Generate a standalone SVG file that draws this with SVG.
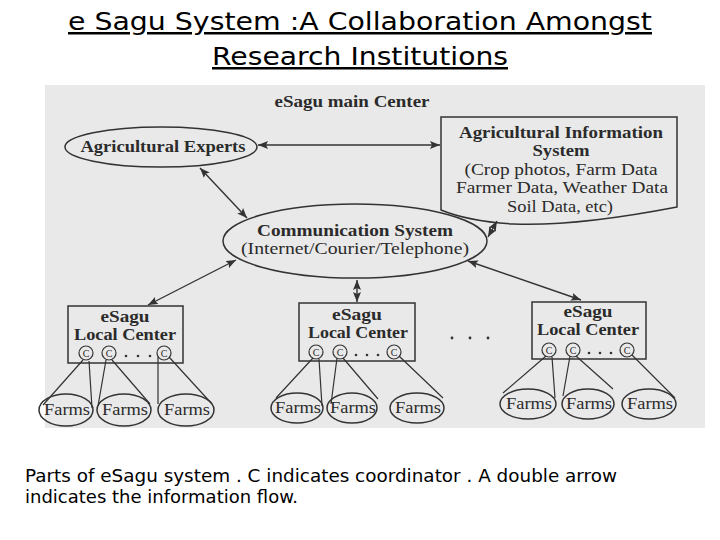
<svg xmlns="http://www.w3.org/2000/svg" width="720" height="540" viewBox="0 0 720 540">
<style>
.ttl{font-family:"DejaVu Sans",Verdana,sans-serif;font-size:25px;fill:#000;text-decoration:underline}
.cap{font-family:"DejaVu Sans",Verdana,sans-serif;font-size:17.5px;fill:#000}
.b{font-family:"Liberation Serif","Times New Roman",serif;font-weight:bold;font-size:17px;fill:#2b2b2b}
.r{font-family:"Liberation Serif","Times New Roman",serif;font-size:17px;fill:#2b2b2b}
.f{font-family:"Liberation Serif","Times New Roman",serif;font-size:16px;fill:#2b2b2b}
.c{font-family:"Liberation Serif","Times New Roman",serif;font-size:10px;fill:#2b2b2b}
.s{fill:none;stroke:#333;stroke-width:1.5}
.ln{fill:none;stroke:#333;stroke-width:1.2}
.ar{fill:none;stroke:#333;stroke-width:1.4;marker-start:url(#ah);marker-end:url(#ah)}
.dot{fill:#333}
</style>
<defs>
<marker id="ah" viewBox="0 0 10 8" refX="10" refY="4" markerWidth="10" markerHeight="8" markerUnits="userSpaceOnUse" orient="auto-start-reverse">
<path d="M0,0 L10,4 L0,8 L2,4 Z" fill="#333"/>
</marker>
</defs>
<rect width="720" height="540" fill="#fff"/>
<g id="title">
<text class="ttl" x="360" y="30" text-anchor="middle" textLength="584" lengthAdjust="spacingAndGlyphs">e Sagu System :A Collaboration Amongst</text>
<text class="ttl" x="360" y="65" text-anchor="middle" textLength="296" lengthAdjust="spacingAndGlyphs">Research Institutions</text>
</g>
<rect id="scan" x="45" y="85" width="660" height="343" fill="#e9e9e9"/>
<g id="main-center-label">
<text class="b" x="352" y="107" text-anchor="middle" textLength="155" lengthAdjust="spacingAndGlyphs">eSagu main Center</text>
</g>
<g id="connectors">
<path class="ar" d="M258,145 L440,145"/>
<path class="ar" d="M200,168 L247,218"/>
<path class="ar" d="M497,221 L488,237"/>
<path class="ar" d="M236,260 L148,305"/>
<path class="ar" d="M357,280 L357,302"/>
<path class="ar" d="M468,261 L581,300"/>
<path class="ln" d="M83,360 L43,405 M89,361 L92,408 M106,360 L98,406 M112,360 L150,404 M158,357 L158,404 M169,357 L212,404"/>
<path class="ln" d="M313,358 L276,398 M319,359 L322,406 M337,358 L331,404 M343,358 L378,399 M399,356 L443,398"/>
<path class="ln" d="M546,356 L503,393 M552,357 L555,398 M570,356 L563,396 M576,356 L613,389 M632,355 L675,398"/>
</g>
<g id="agricultural-experts">
<ellipse class="s" cx="161" cy="147" rx="96" ry="20"/>
<text class="b" x="163" y="152" text-anchor="middle" textLength="165" lengthAdjust="spacingAndGlyphs">Agricultural Experts</text>
</g>
<g id="agricultural-information-system">
<path class="s" d="M441,117 H677 V207 C620,218 560,226 513,224 C480,222 458,217 441,210 Z"/>
<text class="b" x="561" y="137.5" text-anchor="middle" textLength="204" lengthAdjust="spacingAndGlyphs">Agricultural Information</text>
<text class="b" x="561" y="156" text-anchor="middle" textLength="57" lengthAdjust="spacingAndGlyphs">System</text>
<text class="r" x="561" y="175" text-anchor="middle" textLength="193" lengthAdjust="spacingAndGlyphs">(Crop photos, Farm Data</text>
<text class="r" x="562" y="193" text-anchor="middle" textLength="212" lengthAdjust="spacingAndGlyphs">Farmer Data, Weather Data</text>
<text class="r" x="560" y="212" text-anchor="middle" textLength="106" lengthAdjust="spacingAndGlyphs">Soil Data, etc)</text>
</g>
<g id="communication-system">
<ellipse class="s" cx="355" cy="241" rx="132" ry="37"/>
<text class="b" x="355" y="236" text-anchor="middle" textLength="196" lengthAdjust="spacingAndGlyphs">Communication System</text>
<text class="r" x="355" y="254" text-anchor="middle" textLength="228" lengthAdjust="spacingAndGlyphs">(Internet/Courier/Telephone)</text>
</g>
<g id="local-center-1">
<rect class="s" x="68" y="306" width="115" height="57"/>
<text class="b" x="125" y="322" text-anchor="middle" textLength="49" lengthAdjust="spacingAndGlyphs">eSagu</text>
<text class="b" x="125" y="340" text-anchor="middle" textLength="102" lengthAdjust="spacingAndGlyphs">Local Center</text>
<circle class="ln" cx="86" cy="353" r="7"/><text class="c" x="86" y="357" text-anchor="middle">C</text>
<circle class="ln" cx="109" cy="353" r="7"/><text class="c" x="109" y="357" text-anchor="middle">C</text>
<circle class="ln" cx="164" cy="353" r="7"/><text class="c" x="164" y="357" text-anchor="middle">C</text>
<circle class="dot" cx="126" cy="356" r="1.3"/><circle class="dot" cx="138" cy="356" r="1.3"/><circle class="dot" cx="150" cy="356" r="1.3"/>
</g>
<g id="local-center-2">
<rect class="s" x="299" y="303" width="116" height="58"/>
<text class="b" x="357" y="320" text-anchor="middle" textLength="50" lengthAdjust="spacingAndGlyphs">eSagu</text>
<text class="b" x="358" y="338" text-anchor="middle" textLength="100" lengthAdjust="spacingAndGlyphs">Local Center</text>
<circle class="ln" cx="316" cy="352" r="7"/><text class="c" x="316" y="356" text-anchor="middle">C</text>
<circle class="ln" cx="340" cy="352" r="7"/><text class="c" x="340" y="356" text-anchor="middle">C</text>
<circle class="ln" cx="394" cy="352" r="7"/><text class="c" x="394" y="356" text-anchor="middle">C</text>
<circle class="dot" cx="356" cy="355" r="1.3"/><circle class="dot" cx="367" cy="355" r="1.3"/><circle class="dot" cx="378" cy="355" r="1.3"/>
</g>
<g id="ellipsis-between-centers">
<circle class="dot" cx="452" cy="338" r="1.4"/><circle class="dot" cx="470" cy="338" r="1.4"/><circle class="dot" cx="488" cy="338" r="1.4"/>
</g>
<g id="local-center-3">
<rect class="s" x="532" y="302" width="114" height="57"/>
<text class="b" x="588" y="317" text-anchor="middle" textLength="49" lengthAdjust="spacingAndGlyphs">eSagu</text>
<text class="b" x="588" y="335" text-anchor="middle" textLength="102" lengthAdjust="spacingAndGlyphs">Local Center</text>
<circle class="ln" cx="549" cy="350" r="7"/><text class="c" x="549" y="354" text-anchor="middle">C</text>
<circle class="ln" cx="573" cy="350" r="7"/><text class="c" x="573" y="354" text-anchor="middle">C</text>
<circle class="ln" cx="627" cy="350" r="7"/><text class="c" x="627" y="354" text-anchor="middle">C</text>
<circle class="dot" cx="589" cy="353" r="1.3"/><circle class="dot" cx="600" cy="353" r="1.3"/><circle class="dot" cx="611" cy="353" r="1.3"/>
</g>
<g id="farms-1">
<ellipse class="s" cx="66" cy="410" rx="27" ry="16"/><text class="f" x="67" y="415" text-anchor="middle" textLength="46" lengthAdjust="spacingAndGlyphs">Farms</text>
<ellipse class="s" cx="124" cy="410" rx="27" ry="16"/><text class="f" x="125" y="415" text-anchor="middle" textLength="46" lengthAdjust="spacingAndGlyphs">Farms</text>
<ellipse class="s" cx="186" cy="410" rx="28" ry="16"/><text class="f" x="187" y="415" text-anchor="middle" textLength="46" lengthAdjust="spacingAndGlyphs">Farms</text>
</g>
<g id="farms-2">
<ellipse class="s" cx="297" cy="408" rx="26" ry="15"/><text class="f" x="298" y="413" text-anchor="middle" textLength="46" lengthAdjust="spacingAndGlyphs">Farms</text>
<ellipse class="s" cx="352" cy="408" rx="25" ry="15"/><text class="f" x="353" y="413" text-anchor="middle" textLength="46" lengthAdjust="spacingAndGlyphs">Farms</text>
<ellipse class="s" cx="417" cy="408" rx="27" ry="15"/><text class="f" x="418" y="413" text-anchor="middle" textLength="46" lengthAdjust="spacingAndGlyphs">Farms</text>
</g>
<g id="farms-3">
<ellipse class="s" cx="528" cy="404" rx="28" ry="15"/><text class="f" x="529" y="409" text-anchor="middle" textLength="46" lengthAdjust="spacingAndGlyphs">Farms</text>
<ellipse class="s" cx="588" cy="404" rx="26" ry="15"/><text class="f" x="589" y="409" text-anchor="middle" textLength="46" lengthAdjust="spacingAndGlyphs">Farms</text>
<ellipse class="s" cx="649" cy="404" rx="27" ry="15"/><text class="f" x="650" y="409" text-anchor="middle" textLength="46" lengthAdjust="spacingAndGlyphs">Farms</text>
</g>
<g id="caption">
<text class="cap" x="25" y="482" textLength="592" lengthAdjust="spacingAndGlyphs">Parts of eSagu system .  C indicates coordinator . A double arrow</text>
<text class="cap" x="25" y="503" textLength="273" lengthAdjust="spacingAndGlyphs">indicates the information flow.</text>
</g>
</svg>
